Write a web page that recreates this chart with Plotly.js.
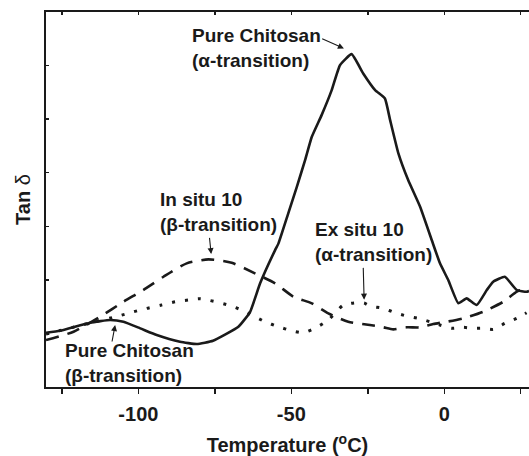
<!DOCTYPE html>
<html>
<head>
<meta charset="utf-8">
<script src="https://cdn.plot.ly/plotly-3.0.1.min.js"></script>
<style>html,body{margin:0;padding:0;background:#fff;}#chart{width:529px;height:456px;}</style>
</head>
<body>
<div id="chart"></div>
<script>
// Pure Chitosan (solid)
const pureX = [-130.2,-125.6,-115.8,-109.2,-104.9,-99.4,-94.0,-86.4,-80.9,-75.6,-67.3,-63.5,-60.2,-55.3,-54.2,-51.0,-48.2,-45.5,-43.3,-40.1,-36.8,-34.1,-30.3,-26.5,-22.6,-19.4,-17.7,-15.0,-11.8,-7.9,-4.1,-1.4,1.3,4.6,7.3,10.6,13.9,16.0,19.8,23.7,26.9,27.7];
const pureY = [1.013,1.050,1.200,1.250,1.218,1.095,0.970,0.845,0.802,0.864,1.125,1.399,1.935,2.556,2.681,3.241,3.737,4.235,4.670,5.075,5.541,6.007,6.213,5.853,5.541,5.386,4.981,4.360,3.862,3.364,2.743,2.308,1.996,1.562,1.655,1.530,1.810,1.965,2.058,1.810,1.778,1.790];
// In situ 10 (dashed)
const inSituX = [-130.2,-121.2,-112.5,-104.9,-98.4,-91.8,-84.2,-77.1,-69.5,-61.9,-55.3,-49.3,-43.3,-37.9,-31.4,-24.3,-19.9,-16.7,-12.3,-7.9,-3.6,0.8,6.2,12.7,19.3,23.9,27.7];
const inSituY = [0.877,1.032,1.312,1.591,1.810,2.058,2.308,2.382,2.319,2.121,1.935,1.685,1.562,1.375,1.218,1.157,1.114,1.076,1.114,1.114,1.175,1.218,1.282,1.405,1.591,1.785,1.847];
// Ex situ 10 (dotted)
const exSituX = [-130.2,-115.8,-106.5,-102.2,-97.3,-92.4,-88.0,-83.7,-79.8,-70.6,-65.7,-58.6,-54.2,-49.9,-46.1,-41.7,-37.9,-33.0,-28.6,-26.2,-24.3,-19.9,-16.1,-12.3,-8.5,-4.7,-1.4,2.4,6.2,9.5,12.7,16.0,19.8,23.7,26.9];
const exSituY = [0.989,1.194,1.325,1.394,1.468,1.530,1.591,1.623,1.647,1.530,1.424,1.218,1.125,1.050,1.013,1.114,1.250,1.530,1.573,1.567,1.511,1.468,1.386,1.325,1.282,1.218,1.157,1.095,1.114,1.095,1.095,1.076,1.188,1.282,1.386];

const xTickVals = [-125,-100,-75,-50,-25,0,25];
const xTickText = ['','-100','','-50','','0',''];
const yTickVals = [0,1,2,3,4,5,6,7];

const FONT = 'Liberation Sans, Arial, Helvetica, sans-serif';
const INK = '#1a1a1a';

const traces = [
  {x: pureX, y: pureY, mode: 'lines', line: {color: INK, width: 2.6, shape: 'spline', smoothing: 0.4}, hoverinfo: 'skip'},
  {x: inSituX, y: inSituY, mode: 'lines', line: {color: INK, width: 2.6, dash: '13px,9px', shape: 'spline', smoothing: 0.6}, hoverinfo: 'skip'},
  {x: exSituX, y: exSituY, mode: 'lines', line: {color: INK, width: 3, dash: '3px,10px', shape: 'spline', smoothing: 0.6}, hoverinfo: 'skip'},
  {x: [0], y: [0], xaxis: 'x2', mode: 'markers', marker: {opacity: 0}, hoverinfo: 'skip'}
];

function txt(x, y, t) {
  return {x: x, y: y, xref: 'x', yref: 'y', text: t, showarrow: false, xanchor: 'left', yanchor: 'top', align: 'left',
          font: {family: FONT, size: 19, color: INK, weight: 'bold'}};
}
function arr(ax, ay, x, y) {
  return {x: x, y: y, ax: ax, ay: ay, xref: 'x', yref: 'y', axref: 'x', ayref: 'y', text: '', showarrow: true,
          arrowhead: 2, arrowsize: 1.1, arrowwidth: 1.1, arrowcolor: INK, standoff: 0, startstandoff: 0};
}

const layout = {
  width: 529, height: 456,
  margin: {l: 46, r: 0, t: 12, b: 69},
  paper_bgcolor: '#fff', plot_bgcolor: '#fff',
  showlegend: false,
  font: {family: FONT, color: INK},
  xaxis: {
    range: [-130.2, 27.7], tickvals: xTickVals, ticktext: xTickText,
    ticks: 'outside', ticklen: 5, tickwidth: 1.5, tickcolor: INK, ticklabelstandoff: 3,
    showline: true, linewidth: 2, linecolor: INK, showgrid: false, zeroline: false,
    tickfont: {family: FONT, size: 20, color: INK, weight: 'bold'},
    title: {text: 'Temperature (<sup>o</sup>C)', font: {family: FONT, size: 20, color: INK, weight: 'bold'}, standoff: 14}
  },
  xaxis2: {
    overlaying: 'x', side: 'top', matches: 'x', range: [-130.2, 27.7], tickvals: xTickVals, showticklabels: false,
    ticks: 'inside', ticklen: 3, tickwidth: 1.5, tickcolor: INK,
    showline: true, linewidth: 2, linecolor: INK, showgrid: false, zeroline: false
  },
  yaxis: {
    range: [0, 7], tickvals: yTickVals, showticklabels: false,
    ticks: 'inside', ticklen: 3, tickwidth: 1.5, tickcolor: INK,
    showline: true, linewidth: 2, linecolor: INK, showgrid: false, zeroline: false,
    title: {text: '<b>Tan</b> δ', font: {family: FONT, size: 20, color: INK}, standoff: 8}
  },
  annotations: [
    txt(-83.1, 6.79, 'Pure Chitosan<br>(α-transition)'),
    txt(-93.56, 3.73, 'In situ 10<br>(β-transition)'),
    txt(-42.9, 3.17, 'Ex situ 10<br>(α-transition)'),
    txt(-124.5, 0.914, 'Pure Chitosan<br>(β-transition)'),
    arr(-40.4, 6.511, -32.8, 6.319),
    arr(-76.8, 2.812, -76.2, 2.481),
    arr(-26.5, 2.252, -26.2, 1.629),
    arr(-108.7, 0.821, -107.6, 1.157)
  ]
};

Plotly.newPlot('chart', traces, layout, {staticPlot: true, displayModeBar: false});
</script>
</body>
</html>
